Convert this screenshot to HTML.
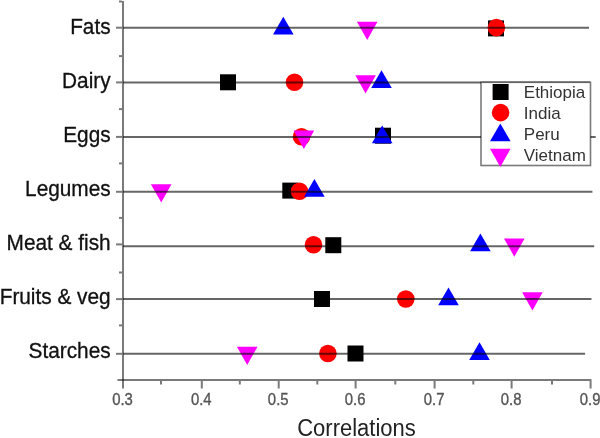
<!DOCTYPE html>
<html><head><meta charset="utf-8"><style>
html,body{margin:0;padding:0;background:#fff;}
svg{display:block;filter:blur(0.4px);}
text{font-family:"Liberation Sans",sans-serif;}
.cat{font-size:20.8px;fill:#111;stroke:#111;stroke-width:0.3px;}
.tk{font-size:16px;fill:#555;stroke:#555;stroke-width:0.35px;}
.ttl{font-size:22px;fill:#222;}
.lg{font-size:17px;fill:#333;}
</style></head><body>
<svg width="600" height="438" viewBox="0 0 600 438">
<rect width="600" height="438" fill="#fff"/>
<rect x="488.00" y="20.40" width="16" height="16" fill="#000"/>
<circle cx="496.40" cy="27.60" r="8.8" fill="#f00"/>
<polygon points="356.90,21.80 377.50,21.80 367.20,40.10" fill="#f0f"/>
<polygon points="283.30,16.70 293.60,34.40 273.00,34.40" fill="#00f"/>
<rect x="220.00" y="74.30" width="16" height="16" fill="#000"/>
<circle cx="294.50" cy="82.30" r="8.8" fill="#f00"/>
<polygon points="355.30,75.20 375.90,75.20 365.60,93.50" fill="#f0f"/>
<polygon points="381.50,70.30 391.80,88.00 371.20,88.00" fill="#00f"/>
<rect x="375.00" y="127.70" width="16" height="16" fill="#000"/>
<circle cx="301.50" cy="136.80" r="8.8" fill="#f00"/>
<polygon points="293.60,130.60 314.20,130.60 303.90,148.90" fill="#f0f"/>
<polygon points="382.20,125.60 392.50,143.30 371.90,143.30" fill="#00f"/>
<rect x="282.30" y="182.60" width="16" height="16" fill="#000"/>
<circle cx="299.50" cy="191.30" r="8.8" fill="#f00"/>
<polygon points="150.90,184.30 171.50,184.30 161.20,202.60" fill="#f0f"/>
<polygon points="314.40,179.10 324.70,196.80 304.10,196.80" fill="#00f"/>
<rect x="325.30" y="237.20" width="16" height="16" fill="#000"/>
<circle cx="313.50" cy="244.80" r="8.8" fill="#f00"/>
<polygon points="504.00,238.50 524.60,238.50 514.30,256.80" fill="#f0f"/>
<polygon points="480.40,233.50 490.70,251.20 470.10,251.20" fill="#00f"/>
<rect x="314.00" y="291.00" width="16" height="16" fill="#000"/>
<circle cx="405.80" cy="299.00" r="8.8" fill="#f00"/>
<polygon points="522.10,292.30 542.70,292.30 532.40,310.60" fill="#f0f"/>
<polygon points="448.50,287.50 458.80,305.20 438.20,305.20" fill="#00f"/>
<rect x="347.50" y="345.50" width="16" height="16" fill="#000"/>
<circle cx="327.90" cy="353.50" r="8.8" fill="#f00"/>
<polygon points="236.90,346.70 257.50,346.70 247.20,365.00" fill="#f0f"/>
<polygon points="479.50,342.30 489.80,360.00 469.20,360.00" fill="#00f"/>
<line x1="123" y1="27.7" x2="589" y2="27.7" stroke="rgba(0,0,0,0.6)" stroke-width="2"/>
<line x1="123" y1="82.4" x2="590" y2="82.4" stroke="rgba(0,0,0,0.6)" stroke-width="2"/>
<line x1="123" y1="136.9" x2="595.7" y2="136.9" stroke="rgba(0,0,0,0.6)" stroke-width="2"/>
<line x1="123" y1="191.8" x2="592.4" y2="191.8" stroke="rgba(0,0,0,0.6)" stroke-width="2"/>
<line x1="123" y1="246.3" x2="594.2" y2="246.3" stroke="rgba(0,0,0,0.6)" stroke-width="2"/>
<line x1="123" y1="299.1" x2="591.5" y2="299.1" stroke="rgba(0,0,0,0.6)" stroke-width="2"/>
<line x1="123" y1="353.8" x2="585.1" y2="353.8" stroke="rgba(0,0,0,0.6)" stroke-width="2"/>
<line x1="123" y1="1" x2="123" y2="388.5" stroke="rgba(0,0,0,0.52)" stroke-width="2"/>
<line x1="117.5" y1="380" x2="591.5" y2="380" stroke="rgba(0,0,0,0.52)" stroke-width="2"/>
<line x1="116" y1="27.7" x2="122" y2="27.7" stroke="rgba(0,0,0,0.52)" stroke-width="2"/>
<line x1="116" y1="82.4" x2="122" y2="82.4" stroke="rgba(0,0,0,0.52)" stroke-width="2"/>
<line x1="116" y1="136.9" x2="122" y2="136.9" stroke="rgba(0,0,0,0.52)" stroke-width="2"/>
<line x1="116" y1="191.8" x2="122" y2="191.8" stroke="rgba(0,0,0,0.52)" stroke-width="2"/>
<line x1="116" y1="244.4" x2="122" y2="244.4" stroke="rgba(0,0,0,0.52)" stroke-width="2"/>
<line x1="116" y1="299.1" x2="122" y2="299.1" stroke="rgba(0,0,0,0.52)" stroke-width="2"/>
<line x1="116" y1="353.8" x2="122" y2="353.8" stroke="rgba(0,0,0,0.52)" stroke-width="2"/>
<line x1="119" y1="1.5" x2="122" y2="1.5" stroke="rgba(0,0,0,0.52)" stroke-width="2"/>
<line x1="119" y1="56.1" x2="122" y2="56.1" stroke="rgba(0,0,0,0.52)" stroke-width="2"/>
<line x1="119" y1="109.1" x2="122" y2="109.1" stroke="rgba(0,0,0,0.52)" stroke-width="2"/>
<line x1="119" y1="163.4" x2="122" y2="163.4" stroke="rgba(0,0,0,0.52)" stroke-width="2"/>
<line x1="119" y1="217.9" x2="122" y2="217.9" stroke="rgba(0,0,0,0.52)" stroke-width="2"/>
<line x1="119" y1="272.5" x2="122" y2="272.5" stroke="rgba(0,0,0,0.52)" stroke-width="2"/>
<line x1="119" y1="325.4" x2="122" y2="325.4" stroke="rgba(0,0,0,0.52)" stroke-width="2"/>
<line x1="201.8" y1="381" x2="201.8" y2="388.5" stroke="rgba(0,0,0,0.52)" stroke-width="2"/>
<line x1="278.7" y1="381" x2="278.7" y2="388.5" stroke="rgba(0,0,0,0.52)" stroke-width="2"/>
<line x1="355.6" y1="381" x2="355.6" y2="388.5" stroke="rgba(0,0,0,0.52)" stroke-width="2"/>
<line x1="434.6" y1="381" x2="434.6" y2="388.5" stroke="rgba(0,0,0,0.52)" stroke-width="2"/>
<line x1="511.6" y1="381" x2="511.6" y2="388.5" stroke="rgba(0,0,0,0.52)" stroke-width="2"/>
<line x1="590.6" y1="381" x2="590.6" y2="388.5" stroke="rgba(0,0,0,0.52)" stroke-width="2"/>
<line x1="161" y1="381" x2="161" y2="384.5" stroke="rgba(0,0,0,0.52)" stroke-width="2"/>
<line x1="239.8" y1="381" x2="239.8" y2="384.5" stroke="rgba(0,0,0,0.52)" stroke-width="2"/>
<line x1="317.3" y1="381" x2="317.3" y2="384.5" stroke="rgba(0,0,0,0.52)" stroke-width="2"/>
<line x1="395.3" y1="381" x2="395.3" y2="384.5" stroke="rgba(0,0,0,0.52)" stroke-width="2"/>
<line x1="473.3" y1="381" x2="473.3" y2="384.5" stroke="rgba(0,0,0,0.52)" stroke-width="2"/>
<line x1="552" y1="381" x2="552" y2="384.5" stroke="rgba(0,0,0,0.52)" stroke-width="2"/>
<rect x="481" y="82.3" width="109.5" height="83.2" fill="#fff" stroke="rgba(0,0,0,0.52)" stroke-width="1.6"/>
<rect x="492.60" y="84.00" width="16" height="16" fill="#000"/>
<circle cx="500.60" cy="112.60" r="8.8" fill="#f00"/>
<polygon points="500.30,123.50 510.60,141.20 490.00,141.20" fill="#00f"/>
<polygon points="490.00,148.70 510.60,148.70 500.30,167.00" fill="#f0f"/>
<text x="523.8" y="97.6" class="lg">Ethiopia</text>
<text x="523.8" y="119.3" class="lg">India</text>
<text x="523.8" y="140.1" class="lg">Peru</text>
<text x="523.8" y="161.2" class="lg">Vietnam</text>
<text transform="translate(110.6,33.8) scale(1,1.06)" text-anchor="end" class="cat">Fats</text>
<text transform="translate(110.6,87.8) scale(1,1.06)" text-anchor="end" class="cat">Dairy</text>
<text transform="translate(110.6,141.9) scale(1,1.06)" text-anchor="end" class="cat">Eggs</text>
<text transform="translate(110.6,195.9) scale(1,1.06)" text-anchor="end" class="cat">Legumes</text>
<text transform="translate(110.6,249.9) scale(1,1.06)" text-anchor="end" class="cat">Meat &amp; fish</text>
<text transform="translate(110.6,303.9) scale(1,1.06)" text-anchor="end" class="cat">Fruits &amp; veg</text>
<text transform="translate(110.6,358.0) scale(1,1.06)" text-anchor="end" class="cat">Starches</text>
<text transform="translate(122.5,404.6) scale(0.93,1)" text-anchor="middle" class="tk">0.3</text>
<text transform="translate(201.3,404.6) scale(0.93,1)" text-anchor="middle" class="tk">0.4</text>
<text transform="translate(278.2,404.6) scale(0.93,1)" text-anchor="middle" class="tk">0.5</text>
<text transform="translate(355.1,404.6) scale(0.93,1)" text-anchor="middle" class="tk">0.6</text>
<text transform="translate(434.1,404.6) scale(0.93,1)" text-anchor="middle" class="tk">0.7</text>
<text transform="translate(511.1,404.6) scale(0.93,1)" text-anchor="middle" class="tk">0.8</text>
<text transform="translate(590.1,404.6) scale(0.93,1)" text-anchor="middle" class="tk">0.9</text>
<text transform="translate(356.5,435.5) scale(1,1.06)" text-anchor="middle" class="ttl">Correlations</text>
</svg>
</body></html>
